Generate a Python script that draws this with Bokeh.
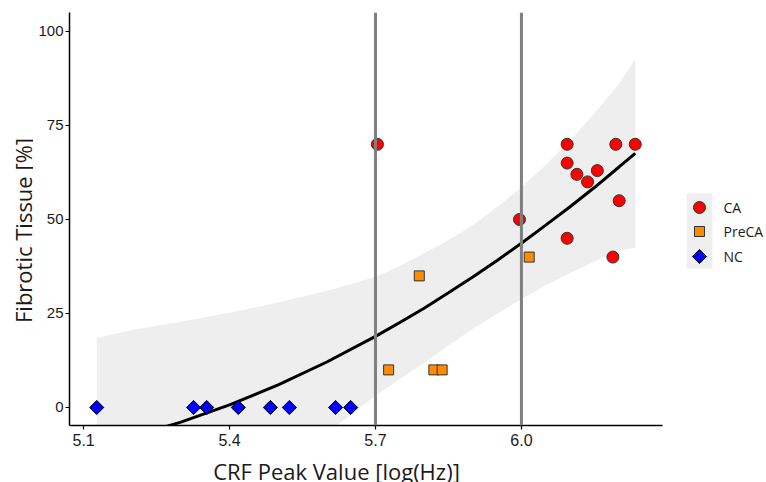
from bokeh.plotting import figure
from bokeh.models import Range1d, FixedTicker, Span, NumeralTickFormatter
from bokeh.layouts import row, column
from bokeh.embed import file_html
from bokeh.resources import INLINE
from bokeh.core.properties import value
import math

# ---- data ----
ca_x = [5.704, 5.996, 6.094, 6.094, 6.094, 6.114, 6.136, 6.156, 6.188, 6.194, 6.201, 6.234]
ca_y = [70, 50, 70, 65, 45, 62, 60, 63, 40, 70, 55, 70]
preca_x = [5.727, 5.790, 5.820, 5.837, 6.016]
preca_y = [10, 35, 10, 10, 40]
nc_x = [5.127, 5.326, 5.353, 5.418, 5.484, 5.523, 5.618, 5.649]
nc_y = [0, 0, 0, 0, 0, 0, 0, 0]

fit_x = [5.127, 5.2, 5.3, 5.4, 5.5, 5.6, 5.7, 5.75, 5.8, 5.85, 5.9, 5.95,
         6.0, 6.05, 6.1, 6.15, 6.2, 6.234]
fit_y = [-10.1, -7.7, -3.9, 0.7, 6.0, 12.1, 18.9, 22.6, 26.4, 30.5, 34.7, 39.1,
         43.7, 48.5, 53.4, 58.5, 63.9, 67.6]
band_lo = [-38.7, -35.9, -30.8, -23.6, -16.0, -6.8, 3.1, 7.6, 11.8, 16.5, 20.9, 24.9,
           28.8, 32.5, 35.8, 38.8, 41.8, 42.5]
band_hi = [18.5, 20.6, 22.8, 25.2, 27.9, 31.0, 34.7, 37.6, 41.0, 44.5, 48.5, 53.3,
           58.6, 64.5, 71.0, 78.2, 86.0, 92.7]

cutoffs = [5.7, 6.0]
x_ticks = [5.1, 5.4, 5.7, 6.0]
y_ticks = [0, 25, 50, 75, 100]
groups = ["CA", "PreCA", "NC"]
colors = ["#FF0000", "#FF8C00", "#0000FF"]
x_title = "CRF Peak Value [log(Hz)]"
y_title = "Fibrotic Tissue [%]"

TOP_H = 458   # height of the row holding the plot
LEFT_W = 33   # strip holding the y title
LEG_W = 86    # strip holding the legend
MAIN_W = 766 - LEFT_W - LEG_W


def no_align(f):
    if hasattr(f, "frame_align"):
        f.frame_align = False
    return f


def strip(w, h):
    f = figure(width=w, height=h, output_backend="svg", toolbar_location=None,
               x_range=Range1d(0, w), y_range=Range1d(h, 0),
               x_axis_location=None, y_axis_location=None, min_border=0,
               min_border_left=0, min_border_right=0, min_border_top=0, min_border_bottom=0)
    f.outline_line_color = None
    f.xgrid.visible = False
    f.ygrid.visible = False
    return no_align(f)


# ---- main plot ----
p = figure(width=MAIN_W, height=TOP_H, output_backend="svg", toolbar_location=None,
           x_range=Range1d(5.071, 6.29), y_range=Range1d(-4.79, 105.05),
           min_border_left=69 - LEFT_W, min_border_right=18, min_border_top=12,
           min_border_bottom=33)
no_align(p)
p.outline_line_color = None
p.xgrid.visible = False
p.ygrid.visible = False
p.background_fill_color = "white"

p.varea(x=fit_x, y1=band_lo, y2=band_hi, fill_color="#EBEBEB", fill_alpha=0.85)
p.line(fit_x, fit_y, line_color="black", line_width=3)
for c in cutoffs:
    p.add_layout(Span(location=c, dimension="height", line_color="#7F7F7F", line_width=3))

p.scatter(nc_x, nc_y, marker="square", angle=math.pi / 4, size=10,
          fill_color=colors[2], line_color="black", line_width=1)
p.scatter(preca_x, preca_y, marker="square", size=10,
          fill_color=colors[1], line_color="#333333", line_width=1)
p.scatter(ca_x, ca_y, marker="circle", size=12,
          fill_color=colors[0], line_color="#333333", line_width=1)

for ax in (p.xaxis[0], p.yaxis[0]):
    ax.axis_line_color = "black"
    ax.axis_line_width = 1.5
    ax.major_tick_line_color = "black"
    ax.major_tick_line_width = 1.2
    ax.major_tick_out = 4
    ax.major_tick_in = 0
    ax.minor_tick_out = 0
    ax.minor_tick_in = 0
    ax.major_label_text_font = "Liberation Sans"
    ax.major_label_text_color = "#1A1A1A"

p.xaxis.major_label_text_font_size = "16px"
p.yaxis.major_label_text_font_size = "15px"
p.xaxis.ticker = FixedTicker(ticks=x_ticks)
p.xaxis.formatter = NumeralTickFormatter(format="0.0")
p.yaxis.ticker = FixedTicker(ticks=y_ticks)
p.xaxis.major_label_standoff = 4
p.yaxis.major_label_standoff = 2

# ---- y title strip ----
ys = strip(LEFT_W, TOP_H)
ys.text(x=[22.5], y=[230], text=[y_title], angle=math.pi / 2,
        text_font=value("Open Sans"), text_font_size="22px",
        text_align="center", text_baseline="middle", text_color="#1A1A1A")

# ---- legend strip ----
lg = strip(LEG_W, TOP_H)
key_y = [207, 231, 256]
lg.quad(left=[6], right=[32], top=[193], bottom=[268], fill_color="#EFEFEF", line_color=None)
lg.scatter([19], [key_y[0]], marker="circle", size=12, fill_color=colors[0], line_color="#333333")
lg.scatter([19], [key_y[1]], marker="square", size=10, fill_color=colors[1], line_color="#333333")
lg.scatter([19], [key_y[2]], marker="square", angle=math.pi / 4, size=10,
           fill_color=colors[2], line_color="black")
lg.text(x=[43, 43, 43], y=key_y, text=groups, text_font=value("Open Sans"),
        text_font_size="14px", text_baseline="middle", text_align="left", text_color="#1A1A1A")

# ---- x title strip ----
xs = strip(766, 482 - TOP_H)
xs.text(x=[336], y=[12], text=[x_title], text_font=value("Open Sans"),
        text_font_size="22px", text_align="center", text_baseline="middle",
        text_color="#1A1A1A")

layout = column(row(ys, p, lg), xs)
open("out.html", "w").write(file_html(layout, INLINE))
